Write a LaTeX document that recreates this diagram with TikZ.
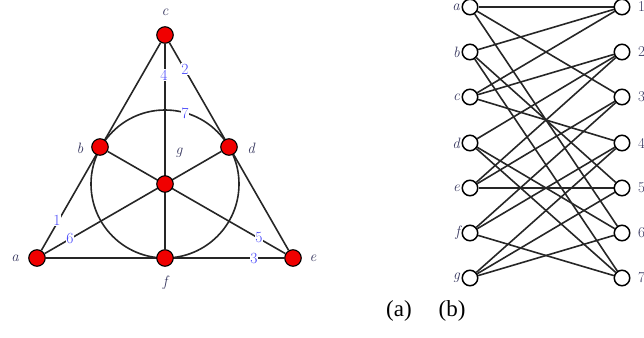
\documentclass[tikz,border=0pt]{standalone}
\usepackage{fontspec}
\newfontfamily\capfont{Liberation Serif}
\usetikzlibrary{backgrounds}
\definecolor{lblcol}{RGB}{55,55,95}
\definecolor{numcol}{RGB}{70,70,250}
\definecolor{dotred}{RGB}{240,0,0}
\begin{document}
\begin{tikzpicture}[x=1pt,y=-1pt,
  reddot/.style={circle,draw=black,fill=dotred,line width=1.1pt,minimum size=16.5pt,inner sep=0pt},
  wdot/.style={circle,draw=black,fill=white,line width=1.5pt,minimum size=15.5pt,inner sep=0pt},
  lbl/.style={text=lblcol,font=\fontsize{15}{17}\selectfont\itshape,inner sep=0pt},
  rlbl/.style={text=lblcol,font=\fontsize{15}{17}\selectfont,inner sep=0pt},
  num/.style={text=numcol,fill=white,font=\fontsize{15.5}{17}\selectfont,inner sep=0.6pt},
  conn/.style={line width=1.6pt,black!85},
  captext/.style={font=\capfont\fontsize{23}{26}\selectfont,inner sep=0pt}]
\useasboundingbox (0,0) rectangle (644,337);
% Fano plane
\node[reddot] (a) at (37,258) {};
\node[reddot] (b) at (100,147) {};
\node[reddot] (c) at (165,35) {};
\node[reddot] (d) at (229,147) {};
\node[reddot] (e) at (293,258) {};
\node[reddot] (f) at (165,258) {};
\node[reddot] (g) at (165,184) {};
\coordinate (ctr) at (165,184);
\begin{pgfonlayer}{background}
\draw[conn] (a) -- (c) -- (e) -- (a);
\draw[conn] (c) -- (f);
\draw[conn] (a) -- (d);
\draw[conn] (b) -- (e);
\draw[conn] (ctr) circle[radius=74];
\end{pgfonlayer}
\node[num] (n4) at (164,75) {4};
\node[num] (n2) at (185,69) {2};
\node[num] (n7) at (185,113) {7};
\node[num] (n1) at (57,220) {1};
\node[num] (n6) at (70,238) {6};
\node[num] (n5) at (259,238) {5};
\node[num] (n3) at (254,258) {3};
\node[lbl] (la) at (15,258) {a};
\node[lbl] (lb) at (80,148) {b};
\node[lbl] (lc) at (165,12) {c};
\node[lbl] (ld) at (251,148) {d};
\node[lbl] (le) at (313,258) {e};
\node[lbl] (lf) at (165,283) {f};
\node[lbl] (lg) at (179,153) {g};
% bipartite graph
\foreach \n/\y in {a/7,b/52,c/97,d/143,e/188,f/233,g/278}{
  \node[wdot] (L\n) at (470,\y) {};
  \node[lbl,anchor=east] (LL\n) at (460,\y) {\n};
}
\foreach \n/\y in {1/7,2/52,3/97,4/143,5/188,6/233,7/278}{
  \node[wdot] (R\n) at (622,\y) {};
  \node[rlbl,anchor=west] (RL\n) at (638,\y) {\n};
}
\begin{pgfonlayer}{background}
\foreach \p/\q in {a/1,a/3,a/6,b/1,b/5,b/7,c/1,c/2,c/4,d/2,d/6,d/7,e/2,e/3,e/5,f/3,f/4,f/7,g/4,g/5,g/6}{
  \draw[conn] (L\p) -- (R\q);
}
\end{pgfonlayer}
\node[captext] (capa) at (399,311) {(a)};
\node[captext] (capb) at (452,311) {(b)};
\end{tikzpicture}
\end{document}
